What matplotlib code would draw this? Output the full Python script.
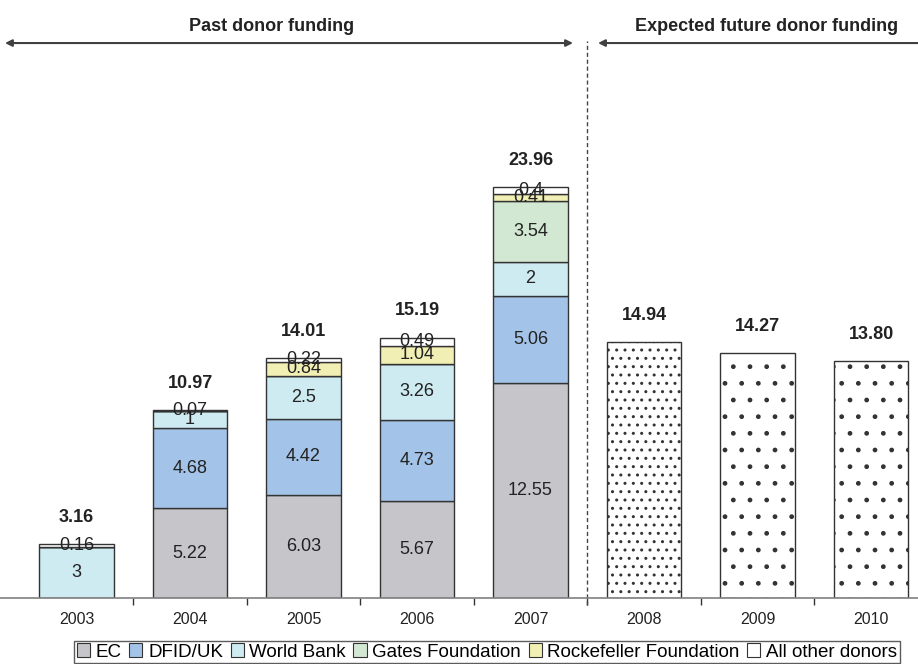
import matplotlib
matplotlib.use('Agg')
import matplotlib.pyplot as plt
from matplotlib.patches import Patch
import numpy as np

plt.rcParams['font.family'] = ['Liberation Sans', 'DejaVu Sans']
plt.rcParams['hatch.color'] = '#444444'

# Donor funding by year (past: stacked by donor; future: total only)
years = ['2003', '2004', '2005', '2006', '2007', '2008', '2009', '2010']
donors = ['EC', 'DFID/UK', 'World Bank', 'Gates Foundation',
          'Rockefeller Foundation', 'All other donors']
ec = [0, 5.22, 6.03, 5.67, 12.55]
dfid = [0, 4.68, 4.42, 4.73, 5.06]
world_bank = [3, 1, 2.5, 3.26, 2]
gates = [0, 0, 0, 0, 3.54]
rockefeller = [0, 0, 0.84, 1.04, 0.41]
other = [0.16, 0.07, 0.22, 0.49, 0.4]
past_totals = ['3.16', '10.97', '14.01', '15.19', '23.96']
future = [14.94, 14.27, 13.80]
future_labels = ['14.94', '14.27', '13.80']

colors = ['#c6c6ca', '#a3c4e8', '#cdebf0', '#d3e8d3', '#f2efb4', '#ffffff']
edge = '#333333'

fig = plt.figure(figsize=(9.18, 6.64), dpi=100)
ax = fig.add_axes([0, 66 / 664, 1, 598 / 664])

series = [ec, dfid, world_bank, gates, rockefeller, other]
x_past = np.arange(len(ec))
bottom = np.zeros(len(ec))
w = 0.66
for vals, col in zip(series, colors):
    vals = np.array(vals)
    ax.bar(x_past, vals, w, bottom=bottom, color=col, edgecolor=edge, linewidth=1)
    for xi, v, b in zip(x_past, vals, bottom):
        if v > 0:
            ax.text(xi, b + v / 2, '%g' % v, ha='center', va='center',
                    fontsize=13, color='#222222')
    bottom += vals

for xi, top, lab in zip(x_past, bottom, past_totals):
    ax.annotate(lab, (xi, top), xytext=(0, 16), textcoords='offset points',
                ha='center', va='baseline', fontsize=13, fontweight='bold',
                color='#222222')

x_fut = np.arange(len(ec), len(years))
hatches = ['..', '.', '.']
for xi, v, lab, h in zip(x_fut, future, future_labels, hatches):
    ax.bar(xi, v, w, color='white', edgecolor=edge, linewidth=1, hatch=h)
    ax.annotate(lab, (xi, v), xytext=(0, 16), textcoords='offset points',
                ha='center', va='baseline', fontsize=13, fontweight='bold',
                color='#222222')

ax.set_xlim(-0.674, 7.414)
ax.set_ylim(0, 34.87)
for s in ['top', 'left', 'right']:
    ax.spines[s].set_visible(False)
ax.spines['bottom'].set_color('#808080')
ax.spines['bottom'].set_linewidth(1.2)
ax.set_yticks([])
ax.set_xticks(range(len(years)))
ax.set_xticklabels(years, fontsize=11.5, color='#222222')
ax.tick_params(axis='x', which='major', length=0, pad=10)
ax.set_xticks(np.arange(len(years) - 1) + 0.5, minor=True)
ax.tick_params(axis='x', which='minor', length=5, color='#333333', width=1)

# section headers with arrows
ax.annotate('', xy=(-0.63, 32.36), xytext=(4.374, 32.36),
            arrowprops=dict(arrowstyle='<|-|>', color='#404040', lw=1.5,
                            mutation_scale=10, shrinkA=0, shrinkB=0))
ax.annotate('', xy=(4.595, 32.36), xytext=(7.6, 32.36),
            arrowprops=dict(arrowstyle='-|>', color='#404040', lw=1.5,
                            mutation_scale=10, shrinkA=0, shrinkB=0),
            annotation_clip=False)
ax.text(1.722, 33.35, 'Past donor funding', ha='center', va='center',
        fontsize=13, fontweight='bold', color='#222222')
ax.text(6.08, 33.35, 'Expected future donor funding', ha='center', va='center',
        fontsize=13, fontweight='bold', color='#222222')
ax.plot([4.498, 4.498], [-0.4, 32.5], ls=(0, (3, 2)), color='#444444', lw=1,
        clip_on=False)

handles = [Patch(facecolor=c, edgecolor=edge, linewidth=0.8) for c in colors]
leg = fig.legend(handles, donors, loc='center', bbox_to_anchor=(487 / 918, 12 / 664),
                 ncol=6, fontsize=13.5, frameon=True, fancybox=False,
                 handlelength=0.7, handleheight=0.7, handletextpad=0.3,
                 columnspacing=0.4, borderpad=0.15, borderaxespad=0)
leg.get_frame().set_edgecolor('#333333')
leg.get_frame().set_linewidth(1)

fig.savefig('out.png', dpi=100)
